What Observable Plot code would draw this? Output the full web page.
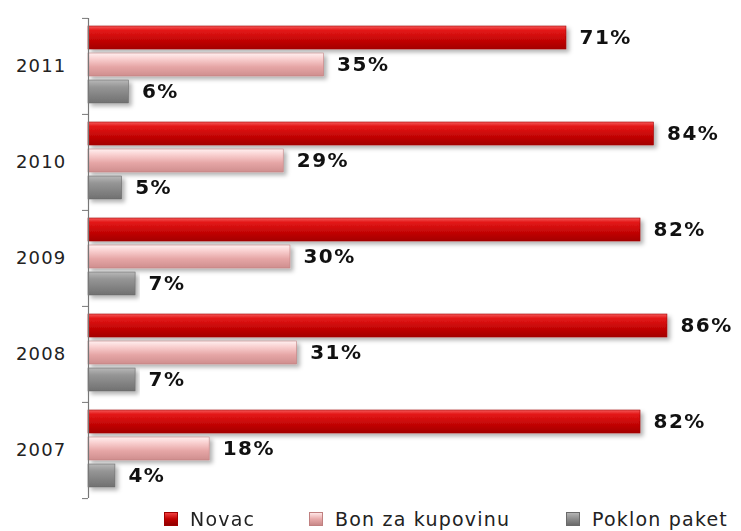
<!DOCTYPE html>
<html>
<head>
<meta charset="utf-8">
<script src="https://cdn.jsdelivr.net/npm/d3@7"></script>
<script src="https://cdn.jsdelivr.net/npm/@observablehq/plot@0.6"></script>
<style>
  html, body { margin: 0; padding: 0; background: #fff; }
  #wrap { position: relative; width: 741px; height: 531px; font-family: "DejaVu Sans", Verdana, sans-serif; overflow: hidden; }
  #chart svg [aria-label="text"] text { letter-spacing: 1.5px; }
  #chart svg [aria-label="fy-axis tick label"] text { letter-spacing: 1.2px; }
  #chart svg [aria-label="bar"] { filter: url(#shadow); }
  .leg { position: absolute; top: 508px; height: 22px; display: flex; align-items: center; font-size: 19px; line-height: 22px; color: #222; letter-spacing: 1.2px; white-space: nowrap; }
  .sw { width: 14px; height: 14px; margin-right: 12px; box-sizing: border-box; }
</style>
</head>
<body>
<div id="wrap">
  <div id="chart"></div>
</div>
<script>
const years = ["2011", "2010", "2009", "2008", "2007"];
const series = ["Novac", "Bon za kupovinu", "Poklon paket"];
const novac = [71, 84, 82, 86, 82];
const bon = [35, 29, 30, 31, 18];
const poklon = [6, 5, 7, 7, 4];
const seriesValues = [novac, bon, poklon];

const colors = ["url(#g0)", "url(#g1)", "url(#g2)"];
const strokes = ["#a00000", "#c08080", "#6a6a6a"];
const legendCss = [
  "linear-gradient(#f04040, #c00000 50%, #900000)",
  "linear-gradient(#ffe6e6, #e8aaaa 50%, #c88888)",
  "linear-gradient(#b4b4b4, #8c8c8c 50%, #6a6a6a)"
];
const legendLeft = [164, 309, 566];

const data = years.flatMap((yr, i) => series.map((s, k) => ({year: yr, series: s, value: seriesValues[k][i]})));

const H = 505, MT = 17, MB = 7;
const step = (H - MT - MB) / years.length;

const plot = Plot.plot({
  width: 741,
  height: H,
  marginLeft: 88,
  marginRight: 0,
  marginTop: MT,
  marginBottom: MB,
  style: {fontFamily: "DejaVu Sans, Verdana, sans-serif", fontSize: "18px", color: "#222", background: "#fff"},
  x: {domain: [0, 97], axis: null},
  y: {domain: series, axis: null, paddingInner: 0.15, paddingOuter: 0.3, align: 0.4},
  fy: {domain: years, padding: 0},
  marks: [
    Plot.axisFy({anchor: "left", label: null, tickSize: 0, tickPadding: 22, fill: "#222"}),
    Plot.axisFy({anchor: "left", label: null, tickSize: 6, text: null, stroke: "#777", dy: -step / 2}),
    Plot.axisFy({anchor: "left", label: null, ticks: [years[years.length - 1]], tickSize: 6, text: null, stroke: "#777", dy: step / 2}),
    ...series.map((s, k) => Plot.barX(data.filter(d => d.series === s), {
      fy: "year", y: "series", x: "value", fill: colors[k], stroke: strokes[k], strokeWidth: 0.6
    })),
    Plot.ruleX([0], {stroke: "#777", strokeWidth: 1.2}),
    Plot.text(data, {
      fy: "year", y: "series", x: "value", text: d => d.value + "%",
      dx: 13, textAnchor: "start", fontWeight: "bold", fontSize: 20, fill: "#111"
    })
  ]
});

d3.select(plot).insert("defs", ":first-child").html(`
  <linearGradient id="g0" x1="0" y1="0" x2="0" y2="1">
    <stop offset="0" stop-color="#f45a5a"/>
    <stop offset="0.18" stop-color="#e41a1a"/>
    <stop offset="0.5" stop-color="#cc0808"/>
    <stop offset="1" stop-color="#a40000"/>
  </linearGradient>
  <linearGradient id="g1" x1="0" y1="0" x2="0" y2="1">
    <stop offset="0" stop-color="#fff0f0"/>
    <stop offset="0.25" stop-color="#f9d0d0"/>
    <stop offset="0.6" stop-color="#e6a6a6"/>
    <stop offset="1" stop-color="#cf8e8e"/>
  </linearGradient>
  <linearGradient id="g2" x1="0" y1="0" x2="0" y2="1">
    <stop offset="0" stop-color="#b8b8b8"/>
    <stop offset="0.3" stop-color="#969696"/>
    <stop offset="1" stop-color="#707070"/>
  </linearGradient>
  <filter id="shadow" x="-5%" y="-20%" width="115%" height="160%">
    <feDropShadow dx="3" dy="3" stdDeviation="2" flood-color="#000" flood-opacity="0.3"/>
  </filter>
`);

document.getElementById("chart").appendChild(plot);

const wrap = document.getElementById("wrap");
series.forEach((s, k) => {
  const item = document.createElement("div");
  item.className = "leg";
  item.style.left = legendLeft[k] + "px";
  item.innerHTML = `<div class="sw" style="background:${legendCss[k]};border:1px solid ${strokes[k]}"></div><span>${s}</span>`;
  wrap.appendChild(item);
});
</script>
</body>
</html>
